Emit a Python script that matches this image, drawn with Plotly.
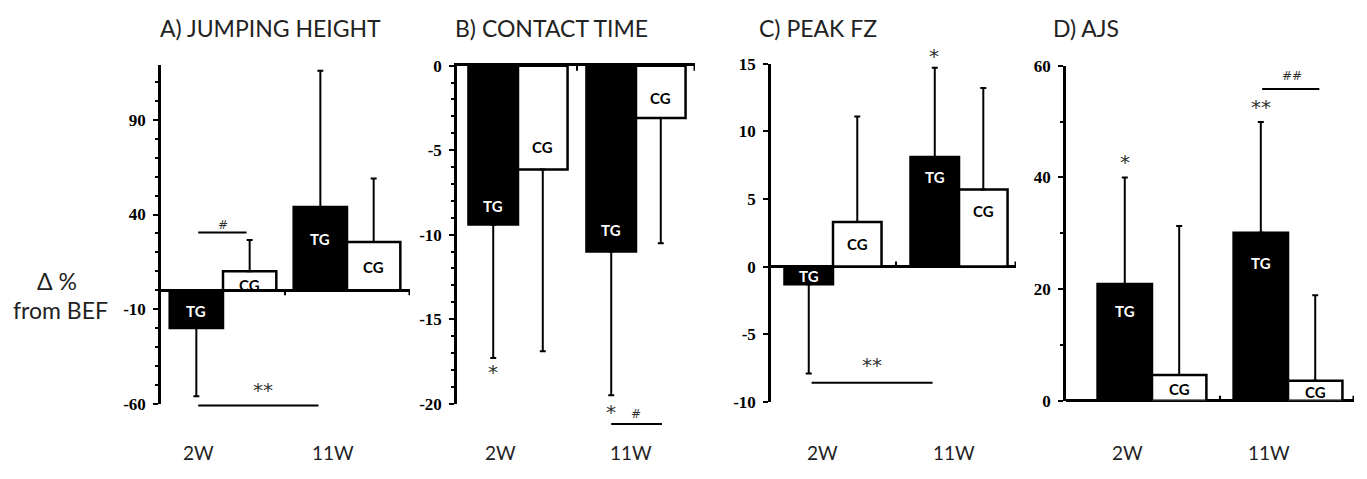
import plotly.graph_objects as go

# ---------------- data ----------------
GROUPS = ["2W", "11W"]
TITLES = ["A) JUMPING HEIGHT", "B) CONTACT TIME", "C) PEAK FZ", "D) AJS"]

tg_a = [-20.0, 44.0]
tg_a_sd = [36.0, 72.0]
cg_a = [10.0, 25.5]
cg_a_sd = [16.5, 33.5]

tg_b = [-9.4, -11.0]
tg_b_sd = [7.9, 8.5]
cg_b = [-6.15, -3.1]
cg_b_sd = [10.75, 7.4]

tg_c = [-1.3, 8.1]
tg_c_sd = [6.6, 6.6]
cg_c = [3.3, 5.7]
cg_c_sd = [7.8, 7.5]

tg_d = [20.9, 30.1]
tg_d_sd = [19.1, 19.8]
cg_d = [4.6, 3.6]
cg_d_sd = [26.7, 15.3]

# y tick labels per panel
yticks_a = [-60, -10, 40, 90]
yticks_b = [-20, -15, -10, -5, 0]
yticks_c = [-10, -5, 0, 5, 10, 15]
yticks_d = [0, 20, 40, 60]

# significance markers: (x, y, text) and lines (x0, x1, y)
sig_a_text = [(0.50, 34.5, "#"), (0.82, -52.5, "**")]
sig_a_lines = [(0.30, 0.69, 30.5), (0.30, 1.27, -61.0)]
sig_b_text = [(0.29, -18.1, "*"), (1.29, -20.5, "*"), (1.50, -20.6, "#")]
sig_b_lines = [(1.29, 1.72, -21.2)]
sig_c_text = [(1.30, 15.6, "*"), (0.81, -7.3, "**")]
sig_c_lines = [(0.33, 1.29, -8.6)]
sig_d_text = [(0.30, 42.8, "*"), (1.30, 52.6, "**"), (1.53, 58.1, "##")]
sig_d_lines = [(1.31, 1.73, 55.8)]

# ---------------- layout / style config ----------------
W, H = 1367, 479

panels = [
    dict(tg=tg_a, tg_sd=tg_a_sd, cg=cg_a, cg_sd=cg_a_sd, yt=yticks_a,
         tg_lab=[-11, 27], cg_lab=[3, 12],
         sig_text=sig_a_text, sig_lines=sig_a_lines,
         xdom=(161, 410), ydom=(58, 411), xr=(0.0, 2.008), yr=(-60, 119.2),
         w=0.43, minor=10, glab=[0.30, 1.39],
         tdir=-1, title_x=270, top_axis=False),
    dict(tg=tg_b, tg_sd=tg_b_sd, cg=cg_b, cg_sd=cg_b_sd, yt=yticks_b,
         tg_lab=[-8.3, -9.7], cg_lab=[-4.8, -1.9],
         sig_text=sig_b_text, sig_lines=sig_b_lines,
         xdom=(457, 695), ydom=(59, 411), xr=(-0.017, 2.0), yr=(-20, 0),
         w=0.42, minor=1, glab=[0.35, 1.46],
         tdir=-1, title_x=551, top_axis=True),
    dict(tg=tg_c, tg_sd=tg_c_sd, cg=cg_c, cg_sd=cg_c_sd, yt=yticks_c,
         tg_lab=[-0.7, 6.6], cg_lab=[1.7, 4.1],
         sig_text=sig_c_text, sig_lines=sig_c_lines,
         xdom=(771, 1016), ydom=(57, 409), xr=(0.008, 1.952), yr=(-10, 15),
         w=0.385, minor=None, glab=[0.42, 1.46],
         tdir=1, title_x=818, top_axis=False),
    dict(tg=tg_d, tg_sd=tg_d_sd, cg=cg_d, cg_sd=cg_d_sd, yt=yticks_d,
         tg_lab=[16, 24.6], cg_lab=[2.1, 1.5],
         sig_text=sig_d_text, sig_lines=sig_d_lines,
         xdom=(1066, 1354), ydom=(59, 408), xr=(-0.132, 1.985), yr=(0, 60),
         w=0.40, minor=10, glab=[0.32, 1.36],
         tdir=1, title_x=1086, top_axis=False),
]

SANS = "Lato"
SERIF = "Liberation Serif"
TXT = "#222"

fig = go.Figure()
annotations = []
shapes = []
layout = {}

xc = [i + 0.5 for i in range(len(GROUPS))]


def ann(**kw):
    base = dict(showarrow=False, xanchor="center", yanchor="middle")
    base.update(kw)
    annotations.append(base)


for i, p in enumerate(panels):
    s = "" if i == 0 else str(i + 1)
    xa, ya = "x" + s, "y" + s
    w = p["w"]

    def err(vals, sds):
        up = [sd if v > 0 else 0 for v, sd in zip(vals, sds)]
        dn = [sd if v < 0 else 0 for v, sd in zip(vals, sds)]
        return dict(type="data", symmetric=False, array=up, arrayminus=dn,
                    color="black", thickness=2, width=3)

    fig.add_trace(go.Bar(
        x=xc, y=p["tg"], width=w, offset=-w, xaxis=xa, yaxis=ya,
        marker=dict(color="black", line=dict(color="black", width=2.5)),
        error_y=err(p["tg"], p["tg_sd"]), showlegend=False, hoverinfo="skip"))
    fig.add_trace(go.Bar(
        x=xc, y=p["cg"], width=w, offset=0, xaxis=xa, yaxis=ya,
        marker=dict(color="white", line=dict(color="black", width=2.5)),
        error_y=err(p["cg"], p["cg_sd"]), showlegend=False, hoverinfo="skip"))

    xaxis = dict(domain=[p["xdom"][0] / W, p["xdom"][1] / W], range=list(p["xr"]),
                 anchor=ya, showgrid=False, zeroline=False, showticklabels=False,
                 ticks="", fixedrange=True)
    if p["top_axis"]:
        xaxis.update(showline=True, linecolor="black", linewidth=2.5, side="top")
    else:
        xaxis.update(showline=False)
    yaxis = dict(domain=[1 - p["ydom"][1] / H, 1 - p["ydom"][0] / H], range=list(p["yr"]),
                 anchor=xa, showgrid=False, showline=True, linecolor="black", linewidth=2.5,
                 zeroline=not p["top_axis"], zerolinecolor="black", zerolinewidth=2.5,
                 tickmode="array", tickvals=p["yt"], ticktext=[str(v) for v in p["yt"]],
                 ticks="outside", ticklen=5, tickwidth=2, tickcolor="black",
                 ticklabelstandoff=4,
                 tickfont=dict(family=SERIF, size=17, color="black", weight="bold"),
                 fixedrange=True)
    if p["minor"]:
        yaxis["minor"] = dict(tickmode="linear", dtick=p["minor"], tick0=p["yt"][0],
                              ticks="outside", ticklen=3, tickwidth=1.5, tickcolor="black")
    layout["xaxis" + s] = xaxis
    layout["yaxis" + s] = yaxis

    # TG / CG labels in bars, group labels under the panel
    for j, g in enumerate(GROUPS):
        ann(x=xc[j] - w / 2, y=p["tg_lab"][j], xref=xa, yref=ya, text="<b>TG</b>",
            font=dict(family=SANS, size=15, color="white"))
        ann(x=xc[j] + w / 2, y=p["cg_lab"][j], xref=xa, yref=ya, text="<b>CG</b>",
            font=dict(family=SANS, size=15, color="black"))
        ann(x=p["glab"][j], y=1 - 462 / H, xref=xa, yref="paper", text=g,
            font=dict(family=SANS, size=19, color=TXT))

    # ticks on the zero line (middle and end)
    x0r, x1r = p["xr"]
    for xv in [1.0, x1r - 0.004]:
        shapes.append(dict(type="line", xref=xa, yref=ya, x0=xv, x1=xv,
                           ysizemode="pixel", yanchor=0, y0=0, y1=5 * p["tdir"],
                           line=dict(color="black", width=2)))

    # significance marks (domain refs so they are not clipped)
    y0r, y1r = p["yr"]
    dx = lambda v: (v - x0r) / (x1r - x0r)
    dy = lambda v: (v - y0r) / (y1r - y0r)
    for (tx, ty, tt) in p["sig_text"]:
        size = 12 if "#" in tt else 20
        ann(x=dx(tx), y=dy(ty), xref=xa + " domain", yref=ya + " domain", text=tt,
            font=dict(family="DejaVu Sans", size=size, color="#333"))
    for (lx0, lx1, ly) in p["sig_lines"]:
        shapes.append(dict(type="line", xref=xa + " domain", yref=ya + " domain",
                           x0=dx(lx0), x1=dx(lx1), y0=dy(ly), y1=dy(ly),
                           line=dict(color="black", width=2)))

    ann(x=p["title_x"] / W, y=1 - 20 / H, xref="paper", yref="paper", text=TITLES[i],
        font=dict(family=SANS, size=23, color=TXT))

ann(x=57 / W, y=1 - 283 / H, xref="paper", yref="paper", text="Δ %",
    font=dict(family=SANS, size=23, color=TXT))
ann(x=61 / W, y=1 - 313 / H, xref="paper", yref="paper", text="from BEF",
    font=dict(family=SANS, size=23, color=TXT))

fig.update_layout(
    width=W, height=H, autosize=False,
    margin=dict(l=0, r=0, t=0, b=0, pad=0),
    paper_bgcolor="white", plot_bgcolor="white",
    showlegend=False, barmode="overlay",
    annotations=annotations, shapes=shapes,
    **layout,
)

fig.write_html("out.html", post_script="document.body.style.margin='0';")
